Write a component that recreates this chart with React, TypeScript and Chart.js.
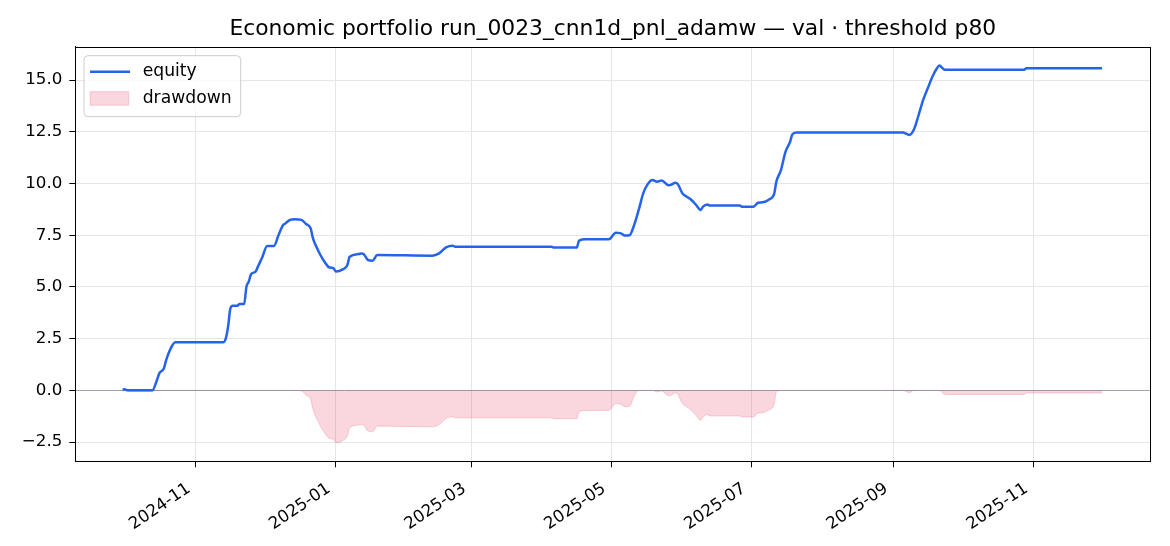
import React, { useEffect, useRef } from 'react';
import { Chart, registerables } from 'chart.js';

Chart.register(...registerables);

// ---- data ----
const dates = [
  '2024-09-30', '2024-10-01', '2024-10-02', '2024-10-13', '2024-10-15', '2024-10-16', '2024-10-18',
  '2024-10-19', '2024-10-21', '2024-10-23', '2024-11-13', '2024-11-14', '2024-11-15', '2024-11-16',
  '2024-11-17', '2024-11-19', '2024-11-20', '2024-11-22', '2024-11-23', '2024-11-24', '2024-11-25',
  '2024-11-27', '2024-11-28', '2024-11-30', '2024-12-02', '2024-12-05', '2024-12-07', '2024-12-09',
  '2024-12-10', '2024-12-12', '2024-12-14', '2024-12-17', '2024-12-19', '2024-12-21', '2024-12-22',
  '2024-12-24', '2024-12-25', '2024-12-27', '2024-12-29', '2024-12-31', '2025-01-01', '2025-01-04',
  '2025-01-06', '2025-01-07', '2025-01-11', '2025-01-12', '2025-01-13', '2025-01-15', '2025-01-17',
  '2025-01-19', '2025-02-12', '2025-02-15', '2025-02-18', '2025-02-21', '2025-02-22', '2025-04-05',
  '2025-04-06', '2025-04-16', '2025-04-17', '2025-04-20', '2025-04-30', '2025-05-03', '2025-05-05',
  '2025-05-07', '2025-05-09', '2025-05-11', '2025-05-13', '2025-05-15', '2025-05-17', '2025-05-19',
  '2025-05-21', '2025-05-23', '2025-05-26', '2025-05-27', '2025-05-29', '2025-05-30', '2025-06-01',
  '2025-06-03', '2025-06-05', '2025-06-07', '2025-06-09', '2025-06-10', '2025-06-12', '2025-06-13',
  '2025-06-26', '2025-06-27', '2025-07-02', '2025-07-04', '2025-07-06', '2025-07-09', '2025-07-11',
  '2025-07-12', '2025-07-14', '2025-07-16', '2025-07-18', '2025-07-19', '2025-07-21', '2025-09-05',
  '2025-09-08', '2025-09-10', '2025-09-12', '2025-09-14', '2025-09-16', '2025-09-18', '2025-09-20',
  '2025-09-21', '2025-09-23', '2025-09-24', '2025-10-28', '2025-10-29', '2025-12-01',
];

const equity = [
  0.03, 0.05, 0.0, 0.0, 0.5, 0.82, 1.06,
  1.46, 2.03, 2.32, 2.33, 2.51, 3.08, 3.96,
  4.09, 4.09, 4.17, 4.17, 5.01, 5.25, 5.61,
  5.74, 5.98, 6.46, 6.98, 6.98, 7.51, 7.99,
  8.07, 8.24, 8.27, 8.24, 8.04, 7.83, 7.35,
  6.82, 6.59, 6.22, 5.95, 5.9, 5.74, 5.85,
  6.06, 6.46, 6.59, 6.62, 6.6, 6.3, 6.27,
  6.54, 6.51, 6.62, 6.91, 6.99, 6.94, 6.94,
  6.9, 6.9, 7.24, 7.3, 7.3, 7.62, 7.6,
  7.48, 7.5, 7.99, 8.72, 9.53, 9.98, 10.17,
  10.09, 10.14, 9.91, 9.93, 10.04, 9.98, 9.53,
  9.36, 9.2, 8.96, 8.72, 8.88, 8.99, 8.93,
  8.93, 8.88, 8.88, 9.07, 9.09, 9.24, 9.48,
  10.09, 10.65, 11.54, 12.02, 12.38, 12.46, 12.46,
  12.35, 12.62, 13.31, 14.04, 14.6, 15.16, 15.57,
  15.7, 15.52, 15.5, 15.5, 15.57, 15.57,
];

const xTickLabels = ['2024-11', '2025-01', '2025-03', '2025-05', '2025-07', '2025-09', '2025-11'];
const yTickStep = 2.5;

const TITLE = 'Economic portfolio run_0023_cnn1d_pnl_adamw \u2014 val \u00b7 threshold p80';

const DAY = 86400000;
const toMs = (s: string) => {
  const p = s.split('-').map(Number);
  return Date.UTC(p[0], p[1] - 1, p[2] || 1);
};
const X_MIN = toMs('2024-10-01') - 21.6 * DAY;
const X_MAX = toMs('2024-10-01') + 447 * DAY;
const Y_MIN = -3.43;
const Y_MAX = 16.6;

const EQ_COLOR = '#2563eb';
const DD_COLOR = 'rgba(225,29,72,0.18)';
const FONT = "'DejaVu Sans', sans-serif";

const fmtMonth = (v: number) => {
  const d = new Date(v);
  const m = d.getUTCMonth() + 1;
  return d.getUTCFullYear() + '-' + (m < 10 ? '0' + m : '' + m);
};
const fmtY = (v: number) => {
  const s = Math.abs(v).toFixed(1);
  return v < -1e-9 ? '\u2212' + s : s;
};

const framePlugin = {
  id: 'frameAndLegend',
  afterDraw(chart: any) {
    const { ctx, chartArea } = chart;
    const { left, top, right, bottom } = chartArea;
    ctx.save();
    ctx.strokeStyle = '#000';
    ctx.lineWidth = 1;
    ctx.strokeRect(Math.round(left) + 0.5, Math.round(top) + 0.5, Math.round(right) - Math.round(left), Math.round(bottom) - Math.round(top));

    // legend
    const bx = left + 8.7;
    const by = top + 8.7;
    const bw = 156.7;
    const bh = 61;
    const r = 4;
    ctx.beginPath();
    ctx.moveTo(bx + r, by);
    ctx.lineTo(bx + bw - r, by);
    ctx.quadraticCurveTo(bx + bw, by, bx + bw, by + r);
    ctx.lineTo(bx + bw, by + bh - r);
    ctx.quadraticCurveTo(bx + bw, by + bh, bx + bw - r, by + bh);
    ctx.lineTo(bx + r, by + bh);
    ctx.quadraticCurveTo(bx, by + bh, bx, by + bh - r);
    ctx.lineTo(bx, by + r);
    ctx.quadraticCurveTo(bx, by, bx + r, by);
    ctx.closePath();
    ctx.fillStyle = 'rgba(255,255,255,0.8)';
    ctx.fill();
    ctx.strokeStyle = '#cccccc';
    ctx.lineWidth = 1;
    ctx.stroke();

    ctx.beginPath();
    ctx.moveTo(bx + 6, by + 16);
    ctx.lineTo(bx + 46, by + 16);
    ctx.strokeStyle = EQ_COLOR;
    ctx.lineWidth = 2.5;
    ctx.stroke();

    ctx.fillStyle = DD_COLOR;
    ctx.fillRect(bx + 6, by + 36, 38.7, 13.6);
    ctx.strokeStyle = DD_COLOR;
    ctx.lineWidth = 1;
    ctx.strokeRect(bx + 6, by + 36, 38.7, 13.6);

    ctx.fillStyle = '#000';
    ctx.font = '17.2px ' + FONT;
    ctx.textAlign = 'left';
    ctx.textBaseline = 'middle';
    ctx.fillText('equity', bx + 58.7, by + 15.5);
    ctx.fillText('drawdown', bx + 58.7, by + 43);
    ctx.restore();
  },
};

export default function App() {
  const ref = useRef<HTMLCanvasElement | null>(null);

  useEffect(() => {
    if (!ref.current) return;
    let peak = -Infinity;
    const drawdown = equity.map((v) => {
      peak = Math.max(peak, v);
      return v - peak;
    });
    const xs = dates.map(toMs);

    const chart = new Chart(ref.current, {
      type: 'line',
      data: {
        datasets: [
          {
            label: 'equity',
            data: xs.map((x, i) => ({ x, y: equity[i] })),
            borderColor: EQ_COLOR,
            borderWidth: 2.5,
            pointRadius: 0,
            fill: false,
            cubicInterpolationMode: 'monotone',
          },
          {
            label: 'drawdown',
            data: xs.map((x, i) => ({ x, y: drawdown[i] })),
            borderColor: DD_COLOR,
            backgroundColor: DD_COLOR,
            borderWidth: 1,
            pointRadius: 0,
            fill: 'origin',
            cubicInterpolationMode: 'monotone',
          },
        ],
      },
      options: {
        animation: false,
        responsive: true,
        maintainAspectRatio: false,
        events: [],
        layout: { padding: { left: 0, right: 19.7, top: 0, bottom: 0 } },
        plugins: {
          legend: { display: false },
          tooltip: { enabled: false },
          title: {
            display: true,
            text: TITLE,
            fullSize: false,
            color: '#000',
            font: { family: FONT, size: 21.8, weight: 'normal' },
            padding: { top: 16, bottom: 4.8 },
          },
        },
        scales: {
          x: {
            type: 'linear',
            min: X_MIN,
            max: X_MAX,
            afterBuildTicks: (s: any) => {
              s.ticks = xTickLabels.map((l) => ({ value: toMs(l) }));
            },
            afterFit: (s: any) => {
              s.height = 84.7;
            },
            ticks: {
              autoSkip: false,
              minRotation: 34,
              maxRotation: 34,
              padding: 11.5,
              labelOffset: -7,
              color: '#000',
              font: { family: FONT, size: 16.7 },
              callback: (v: any) => fmtMonth(Number(v)),
            },
            grid: {
              color: '#e6e6e6',
              lineWidth: 1,
              tickLength: 6,
              tickColor: '#000',
              tickWidth: 1,
            },
            border: { display: true, color: '#000', width: 1 },
          },
          y: {
            type: 'linear',
            min: Y_MIN,
            max: Y_MAX,
            afterFit: (s: any) => {
              s.width = 75.3;
            },
            ticks: {
              stepSize: yTickStep,
              includeBounds: false,
              padding: 7,
              color: '#000',
              font: { family: FONT, size: 16.7 },
              callback: (v: any) => fmtY(Number(v)),
            },
            grid: {
              color: (c: any) => (c.tick && Math.abs(c.tick.value) < 1e-9 ? '#9aa6b8' : '#e6e6e6'),
              lineWidth: 1,
              tickLength: 6,
              tickColor: '#000',
              tickWidth: 1,
            },
            border: { display: true, color: '#000', width: 1 },
          },
        },
      } as any,
      plugins: [framePlugin],
    });
    return () => chart.destroy();
  }, []);

  return (
    <div style={{ position: 'fixed', left: 0, top: 0, width: 1170, height: 546, background: '#fff' }}>
      <canvas ref={ref} />
    </div>
  );
}
